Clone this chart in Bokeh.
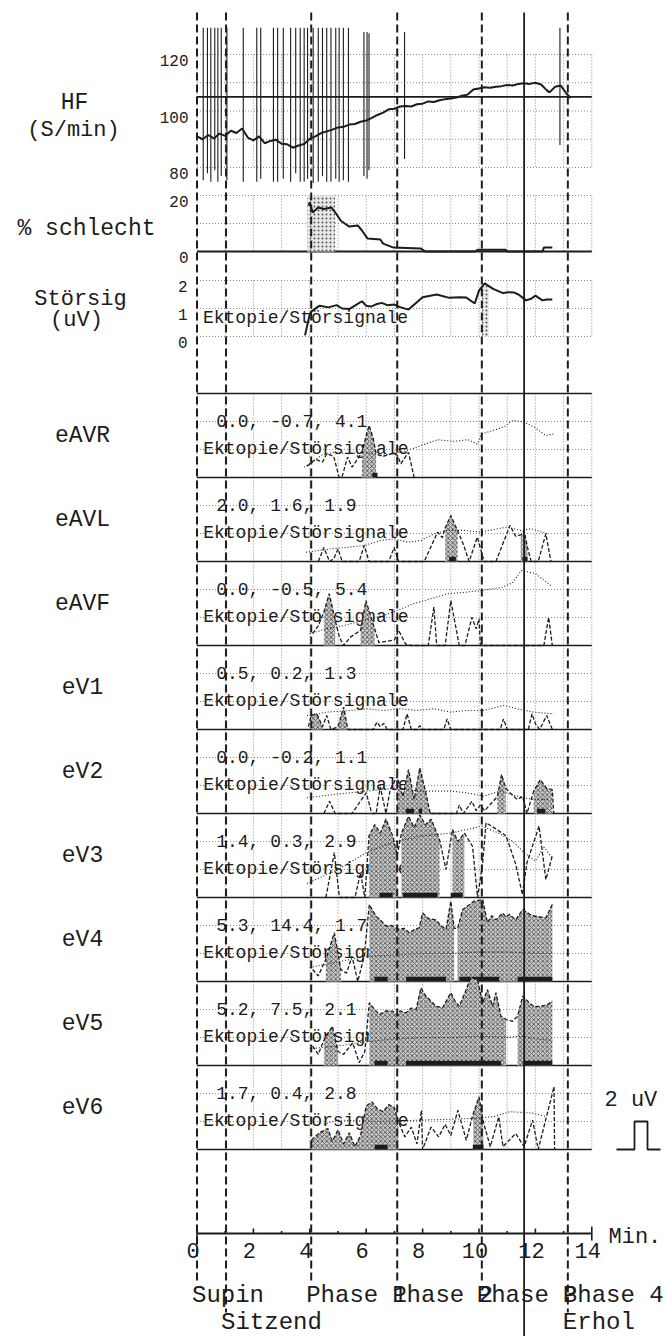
from bokeh.plotting import figure
from bokeh.models import Range1d
from bokeh.core.properties import value
from bokeh.embed import file_html
from bokeh.resources import INLINE

W, H = 666, 1336

# ---------------- data ----------------
PHASE_MIN = [0.0, 1.03, 4.05, 7.1, 10.1, 13.15]
PHASE_TOP_ROW = ["Supin", "", "Phase 1", "Phase 2", "Phase 3", "Phase 4"]
PHASE_LOW_ROW = ["", "Sitzend", "", "", "", "Erhol"]
MARKER_MIN = 11.6
X_TICKS = list(range(0, 15))
X_LABEL_TICKS = [0, 2, 4, 6, 8, 10, 12, 14]

HF_TICKS = [80, 100, 120]
HF_GRID = [80, 90, 100, 110, 120]
HF_REF = 105
HF_MIN = [0.0, 0.2, 0.4, 0.6, 0.8, 1.0, 1.2, 1.4, 1.6, 1.8, 2.0, 2.2, 2.4, 2.6, 2.8,
          3.0, 3.2, 3.4, 3.6, 3.8, 4.0, 4.2, 4.4, 4.6, 4.8, 5.0, 5.2, 5.4, 5.6, 5.8,
          6.0, 6.2, 6.4, 6.6, 6.8, 7.0, 7.2, 7.4, 7.6, 7.8, 8.0, 8.2, 8.4, 8.6, 8.8,
          9.0, 9.2, 9.4, 9.6, 9.8, 10.0, 10.2, 10.4, 10.6, 10.8, 11.0, 11.2, 11.4,
          11.6, 11.8, 12.0, 12.2, 12.4, 12.5, 12.7, 12.9, 13.1, 13.25]
HF_BPM = [91.0, 90.0, 91.5, 90.3, 92.0, 91.2, 93.0, 92.2, 93.8, 90.6, 89.6, 91.0, 88.6, 89.4, 89.8,
          88.4, 88.2, 87.0, 87.8, 88.3, 90.2, 91.0, 92.2, 92.8, 93.4, 94.2, 94.4, 95.2, 95.4, 96.2,
          96.6, 97.6, 98.6, 99.4, 100.6, 100.8, 101.6, 101.8, 101.6, 102.4, 102.6, 103.4, 103.2, 103.8, 104.2,
          104.4, 104.8, 105.4, 105.8, 107.6, 108.0, 108.4, 108.2, 108.6, 108.8, 109.2, 109.0, 109.6,
          109.8, 109.6, 110.0, 109.4, 107.4, 106.6, 108.6, 109.0, 106.2, 104.6]
SPIKE_MIN = [0.22, 0.37, 0.49, 0.63, 0.74, 0.86, 1.06, 1.64, 2.12, 2.26, 2.71, 2.86, 3.06, 3.32,
             3.5, 3.66, 3.8, 3.92, 4.12, 4.3, 4.45, 4.6, 4.75, 4.92, 5.04, 5.19, 5.37, 5.92,
             6.03, 6.1, 7.36, 12.87]
SPIKE_LO = [75.5, 78, 75, 79, 75, 77, 75.5, 75, 75, 76, 75, 75, 76, 75,
            78, 75, 75, 76, 74.5, 75, 77, 75, 75, 76, 75, 75.5, 75, 77,
            76, 79, 83, 88]
SPIKE_HI = [129.5, 129.5, 129.5, 129.5, 129.5, 129.5, 129.5, 129.5, 129.5, 129.5, 129.5, 129.5, 129.5, 129.5,
            129.5, 129.5, 129.5, 129.5, 129.5, 129.5, 129.5, 129.5, 129.5, 129.5, 129.5, 129.5, 129.5, 128,
            128, 127.5, 128, 129.5]

PCT_TICKS = [0, 20]
PCT_GRID = [10, 20]
PCT_MIN = [3.95, 4.0, 4.1, 4.3, 4.5, 4.77, 4.9, 5.1, 5.4, 5.7, 5.85, 6.05, 6.5, 6.6, 6.97,
           7.93, 8.1, 9.87, 9.95, 10.95, 11.0, 12.25, 12.3, 12.6]
PCT_VAL = [16.4, 17.5, 13.9, 15.7, 15.2, 15.7, 14.0, 11.0, 8.9, 9.3, 7.5, 4.6, 4.3, 2.8, 1.4,
           1.1, 0.0, 0.0, 0.6, 0.6, 0.0, 0.0, 1.4, 1.4]
PCT_STIPPLE = (3.9, 4.9, 20)

STOR_TICKS = [0, 1, 2]
STOR_MIN = [3.83, 4.0, 4.06, 4.35, 4.66, 4.95, 5.15, 5.4, 5.6, 5.85, 6.0, 6.17, 6.35, 6.55, 6.75,
            7.0, 7.2, 7.5, 8.0, 8.5, 8.95, 9.3, 9.55, 9.85, 10.0, 10.2, 10.5, 10.85, 11.05,
            11.25, 11.4, 11.67, 11.85, 12.0, 12.25, 12.4, 12.6]
STOR_VAL = [0.04, 0.8, 0.9, 1.1, 1.04, 1.12, 1.0, 0.98, 1.1, 1.26, 1.1, 1.07, 1.15, 1.2, 1.12,
            1.14, 1.05, 0.96, 1.4, 1.5, 1.38, 1.4, 1.39, 1.18, 1.64, 1.9, 1.7, 1.55, 1.58,
            1.57, 1.5, 1.29, 1.35, 1.46, 1.29, 1.32, 1.32]
STOR_STIPPLE = (10.1, 10.35, 1.8)

LEADS = ["eAVR", "eAVL", "eAVF", "eV1", "eV2", "eV3", "eV4", "eV5", "eV6"]
LEAD_STATS = ["0.0, -0.7, 4.1", "2.0, 1.6, 1.9", "0.0, -0.5, 5.4", "0.5, 0.2, 1.3",
              "0.0, -0.2, 1.1", "1.4, 0.3, 2.9", "5.3, 14.4, 1.7", "5.2, 7.5, 2.1",
              "1.7, 0.4, 2.8"]
ECTOPY_TEXT = "Ektopie/Störsignale"

# lead traces: (minute, divisions above panel baseline)
AVR_TREND = [(3.8, 0.37), (4.15, 0.6), (4.4, 0.79), (4.86, 0.9), (5.34, 0.85), (5.93, 0.9), (6.5, 0.79),
             (7.0, 0.85), (7.45, 0.96), (7.94, 1.14), (8.53, 1.35), (9.12, 1.29), (9.6, 1.35), (9.94, 1.2),
             (10.1, 1.56), (10.5, 1.68), (10.9, 1.82), (11.2, 2.04), (11.6, 1.98), (11.96, 1.8),
             (12.37, 1.5), (12.67, 1.56)]
AVR_ECTO = [(3.9, 0.4), (4.2, 0.65), (4.45, 0.55), (4.6, 0.85), (4.85, 0.75), (5.04, 0.0), (5.15, 0.05),
            (5.34, 0.73), (5.5, 0.37), (5.7, 0.67), (5.85, 0.9), (6.0, 1.5), (6.1, 1.86), (6.25, 1.4),
            (6.35, 0.85), (6.6, 0.75), (6.9, 0.85), (7.1, 0.8), (7.23, 0.49), (7.5, 0.9), (7.7, 0.0)]
AVR_HATCH = [(5.85, 6.35)]
AVR_BARS = [(6.22, 6.4)]

AVL_TREND = [(3.86, 0.33), (4.75, 0.45), (5.34, 0.51), (5.93, 0.57), (6.52, 0.75), (6.99, 0.81),
             (7.46, 0.69), (7.94, 0.75), (8.41, 0.99), (8.88, 1.11), (9.47, 1.11), (10.06, 1.05),
             (10.66, 1.17), (11.0, 1.23), (11.48, 1.11), (11.84, 1.17), (12.43, 0.99)]
AVL_ECTO = [(4.3, 0.0), (4.5, 0.5), (4.7, 0.0), (4.85, 0.1), (5.0, 0.45), (5.15, 0.0), (5.75, 0.0),
            (5.93, 0.57), (6.1, 0.0), (6.8, 0.0), (6.99, 0.5), (7.15, 0.0), (8.06, 0.0), (8.53, 1.05),
            (8.7, 0.85), (8.8, 1.2), (9.0, 1.64), (9.24, 1.1), (9.45, 0.6), (9.65, 0.0), (9.94, 0.87),
            (10.18, 0.0), (10.6, 0.0), (11.1, 1.29), (11.3, 0.9), (11.48, 0.95), (11.6, 1.1),
            (11.72, 0.5), (11.85, 0.0), (12.1, 0.0), (12.37, 0.99), (12.55, 0.0)]
AVL_HATCH = [(8.8, 9.24), (11.48, 11.72)]
AVL_BARS = [(8.94, 9.18), (11.54, 11.72)]

AVF_TREND = [(4.0, 0.42), (4.6, 0.6), (5.2, 0.71), (5.9, 0.9), (6.6, 1.07), (7.1, 1.25), (7.7, 1.5),
             (8.4, 1.7), (8.9, 1.85), (9.5, 1.9), (10.06, 1.96), (10.8, 2.07), (11.2, 2.25), (11.5, 2.68),
             (12.0, 2.57), (12.55, 2.14)]
AVF_ECTO = [(4.1, 0.42), (4.3, 0.7), (4.5, 1.2), (4.69, 1.85), (4.9, 0.9), (5.05, 0.3), (5.2, 0.0),
            (5.44, 0.3), (5.8, 0.54), (5.99, 1.6), (6.3, 0.6), (6.45, 0.1), (7.0, 0.2), (7.15, 0.54),
            (7.4, 0.05), (7.6, 0.0), (8.2, 0.0), (8.4, 1.37), (8.5, 0.0), (8.8, 0.0), (9.0, 1.6),
            (9.3, 0.0), (9.5, 0.0), (9.75, 1.0), (9.9, 0.6), (10.0, 0.95), (10.05, 0.0), (12.3, 0.0),
            (12.47, 1.0), (12.6, 0.0)]
AVF_HATCH = [(4.5, 4.9), (5.8, 6.3)]
AVF_BARS = []

V1_TREND = [(3.9, 0.5), (4.6, 0.62), (5.44, 0.68), (6.03, 0.74), (6.62, 0.68), (7.2, 0.74), (7.8, 0.68),
            (8.4, 0.74), (9.0, 0.62), (9.57, 0.68), (10.16, 0.68), (10.87, 0.86), (11.35, 0.74),
            (11.94, 0.62), (12.65, 0.56)]
V1_ECTO = [(3.95, 0.1), (4.05, 0.5), (4.25, 0.56), (4.45, 0.1), (4.6, 0.5), (4.75, 0.0), (5.0, 0.1),
           (5.2, 0.8), (5.35, 0.0), (6.25, 0.0), (6.38, 0.26), (6.5, 0.1), (6.62, 0.22), (6.75, 0.0),
           (7.3, 0.0), (7.45, 0.56), (7.6, 0.0), (7.8, 0.0), (7.9, 0.14), (8.0, 0.0), (8.75, 0.0),
           (8.87, 0.38), (9.0, 0.0), (10.75, 0.0), (10.87, 0.38), (11.0, 0.0), (11.75, 0.0),
           (11.88, 0.56), (12.0, 0.2), (12.15, 0.0), (12.4, 0.5), (12.6, 0.0)]
V1_HATCH = [(4.05, 4.45), (5.0, 5.35)]
V1_BARS = []

V2_TREND = [(3.9, 0.56), (4.85, 0.68), (6.03, 0.8), (7.2, 0.92), (7.8, 0.8), (9.0, 0.8), (9.57, 0.74),
            (10.16, 0.62), (10.75, 0.8), (11.35, 0.62), (11.94, 0.5), (12.5, 0.5)]
V2_ECTO = [(4.5, 0.0), (4.7, 0.44), (4.9, 0.0), (5.5, 0.0), (6.0, 0.74), (6.2, 0.0), (6.35, 0.0),
           (6.5, 0.95), (6.7, 0.0), (6.85, 0.85), (7.1, 1.33), (7.3, 0.6), (7.5, 1.57), (7.7, 0.5),
           (7.9, 1.63), (8.1, 0.8), (8.27, 0.0), (9.2, 0.0), (9.3, 0.3), (9.45, 0.0), (9.75, 0.44),
           (9.9, 0.1), (10.05, 0.3), (10.2, 0.1), (10.65, 0.6), (10.8, 1.39), (10.95, 0.9), (11.1, 0.74),
           (11.35, 0.5), (11.55, 0.6), (11.7, 0.0), (11.94, 0.8), (12.17, 1.21), (12.4, 0.9),
           (12.6, 0.85), (12.65, 0.0)]
V2_HATCH = [(7.1, 8.27), (10.65, 10.95), (11.94, 12.6)]
V2_BARS = [(7.4, 7.7), (7.86, 7.98), (12.06, 12.35)]

V3_TREND = [(3.9, 0.5), (5.0, 1.0), (6.0, 1.6), (7.0, 2.0), (8.0, 2.2), (9.0, 2.3), (10.1, 2.55),
            (10.7, 2.3), (11.2, 2.0), (11.6, 1.6), (12.0, 1.3), (12.3, 1.8), (12.6, 1.4)]
V3_ECTO = [(4.57, 0.0), (4.87, 1.6), (5.05, 0.0), (5.6, 0.0), (5.8, 0.88), (5.95, 0.0), (6.1, 2.2),
           (6.3, 2.6), (6.5, 2.3), (6.7, 2.8), (6.94, 2.2), (7.1, 1.5), (7.25, 2.3), (7.5, 2.9),
           (7.7, 2.5), (7.9, 2.95), (8.1, 2.6), (8.3, 2.8), (8.6, 2.07), (8.83, 1.0), (9.06, 2.43),
           (9.25, 2.0), (9.48, 2.3), (9.77, 1.83), (9.95, 0.0), (10.13, 1.24), (10.25, 2.67),
           (10.6, 2.45), (10.96, 2.2), (11.3, 1.2), (11.54, 0.1), (11.7, 1.24), (12.13, 2.55),
           (12.37, 0.64), (12.6, 1.48)]
V3_HATCH = [(6.1, 7.1), (7.25, 8.6), (9.06, 9.48)]
V3_BARS = [(6.47, 6.94), (7.3, 8.53), (9.0, 9.42)]

V4_TREND = [(4.0, 0.5), (5.0, 0.7), (6.0, 0.9), (7.0, 0.95), (8.0, 1.0), (9.0, 1.0), (10.0, 1.05),
            (11.0, 1.05), (12.0, 1.0), (12.6, 1.0)]
V4_ECTO = [(4.1, 0.43), (4.3, 0.2), (4.57, 0.79), (4.87, 1.74), (5.1, 0.43), (5.3, 0.3), (5.5, 0.9),
           (5.7, 0.0), (5.93, 0.9), (6.11, 2.75), (6.35, 2.33), (6.5, 2.2), (6.7, 1.98), (6.9, 2.0),
           (7.17, 1.86), (7.35, 1.9), (7.53, 1.74), (7.7, 1.85), (7.88, 1.92), (8.0, 2.45), (8.2, 2.25),
           (8.47, 2.2), (8.65, 2.0), (8.83, 1.86), (9.0, 2.87), (9.12, 1.9), (9.24, 1.9), (9.42, 2.57),
           (9.6, 2.7), (9.83, 2.87), (10.13, 2.93), (10.3, 2.1), (10.45, 2.35), (10.6, 2.2),
           (10.84, 2.45), (10.95, 2.3), (11.08, 2.4), (11.3, 2.2), (11.55, 2.57), (11.8, 2.4),
           (12.0, 2.33), (12.2, 2.3), (12.37, 2.27), (12.6, 2.75)]
V4_HATCH = [(4.57, 5.1), (6.11, 9.12), (9.24, 12.6)]
V4_BARS = [(6.29, 6.76), (7.41, 8.83), (9.3, 10.72), (11.37, 12.6)]

V5_TREND = [(4.0, 0.6), (5.0, 0.7), (6.0, 0.85), (7.0, 0.95), (8.0, 1.0), (9.0, 1.0), (10.0, 1.05),
            (11.0, 1.0), (11.5, 1.05), (12.0, 0.95), (12.6, 0.9)]
V5_ECTO = [(4.1, 0.69), (4.3, 0.4), (4.5, 0.9), (4.8, 1.4), (5.0, 0.5), (5.2, 0.4), (5.52, 0.81),
           (5.75, 0.1), (5.95, 0.5), (6.11, 2.24), (6.3, 2.0), (6.47, 1.82), (6.7, 1.95), (6.94, 1.94),
           (7.1, 1.8), (7.2, 1.95), (7.41, 1.88), (7.6, 2.05), (7.77, 2.0), (7.94, 2.77), (8.1, 2.5),
           (8.24, 2.36), (8.47, 2.12), (8.71, 2.06), (9.0, 2.6), (9.15, 2.3), (9.3, 2.12), (9.5, 2.6),
           (9.72, 3.15), (9.95, 3.05), (10.13, 2.24), (10.3, 2.71), (10.48, 2.12), (10.6, 2.6),
           (10.78, 1.76), (10.96, 1.64), (11.19, 1.58), (11.37, 1.76), (11.55, 2.48), (11.78, 2.24),
           (11.95, 2.1), (12.14, 2.12), (12.4, 2.15), (12.6, 2.3)]
V5_HATCH = [(4.5, 5.0), (6.11, 10.96), (11.37, 12.6)]
V5_BARS = [(6.29, 6.76), (7.41, 10.78), (11.55, 12.6)]

V6_TREND = [(4.5, 0.9), (5.0, 1.05), (6.5, 1.0), (8.0, 1.05), (9.55, 1.1), (10.5, 1.17), (11.1, 1.35),
            (11.9, 1.3), (12.4, 1.17)]
V6_ECTO = [(4.05, 0.33), (4.35, 0.6), (4.64, 0.75), (4.8, 0.3), (5.0, 0.7), (5.2, 0.2), (5.4, 0.6),
           (5.6, 0.1), (5.8, 0.5), (6.0, 1.55), (6.2, 1.7), (6.4, 1.45), (6.6, 1.35), (6.8, 1.6),
           (7.0, 1.5), (7.14, 1.0), (7.37, 0.45), (7.6, 0.8), (7.8, 0.2), (7.96, 1.4), (8.0, 0.0),
           (8.3, 0.8), (8.57, 0.45), (8.8, 0.9), (9.0, 0.5), (9.25, 1.4), (9.55, 0.33), (9.8, 1.3),
           (10.0, 1.88), (10.15, 1.0), (10.4, 0.1), (10.7, 1.17), (10.85, 0.1), (11.3, 0.57),
           (11.6, 0.1), (11.9, 1.05), (12.1, 0.0), (12.4, 1.2), (12.66, 2.24), (12.68, 0.0)]
V6_HATCH = [(4.05, 7.14), (9.8, 10.15)]
V6_BARS = [(6.3, 6.76), (9.78, 10.16)]

SCALE_UV = 2
UV_PER_DIV = 2

LEAD_TABLE = [
    (AVR_TREND, AVR_ECTO, AVR_HATCH, AVR_BARS),
    (AVL_TREND, AVL_ECTO, AVL_HATCH, AVL_BARS),
    (AVF_TREND, AVF_ECTO, AVF_HATCH, AVF_BARS),
    (V1_TREND, V1_ECTO, V1_HATCH, V1_BARS),
    (V2_TREND, V2_ECTO, V2_HATCH, V2_BARS),
    (V3_TREND, V3_ECTO, V3_HATCH, V3_BARS),
    (V4_TREND, V4_ECTO, V4_HATCH, V4_BARS),
    (V5_TREND, V5_ECTO, V5_HATCH, V5_BARS),
    (V6_TREND, V6_ECTO, V6_HATCH, V6_BARS),
]

# ---------------- layout (page pixels) ----------------
PX0, PPM = 196.5, 28.2
HF_MAP = (120, 54, 80, 167)
PCT_MAP = (20, 195, 0, 251)
STOR_MAP = (2, 280, 0, 336)
ECG_TOP, ECG_H = 393, 84
AXIS_Y = 1233
LINE_TOP = 12

INK = "#1c1c1c"
GRID = "#8a8a8a"
FONT = value("Liberation Mono")


def vrange(v1, y1, v2, y2):
    k = (y2 - y1) / (v2 - v1)
    return Range1d(start=v1 + (H - y1) / k, end=v1 + (0 - y1) / k)


p = figure(width=W, height=H, x_range=Range1d(-PX0 / PPM, (W - PX0) / PPM),
           y_range=Range1d(H, 0), toolbar_location=None, output_backend="svg",
           min_border=0, x_axis_location=None, y_axis_location=None, title=None)
p.outline_line_color = None
p.background_fill_color = "white"
p.border_fill_color = "white"
p.xgrid.visible = False
p.ygrid.visible = False
p.extra_x_ranges = {"px": Range1d(0, W)}
ranges = {"hf": vrange(*HF_MAP), "pct": vrange(*PCT_MAP), "stor": vrange(*STOR_MAP)}
for i in range(len(LEADS)):
    top = ECG_TOP + i * ECG_H
    ranges["L%d" % i] = vrange(3, top, 0, top + ECG_H)
p.extra_y_ranges = ranges

X_MAX = X_TICKS[-1]

# ---------- grid ----------
spans = [(HF_MAP[1], HF_MAP[3]), (PCT_MAP[1], PCT_MAP[3]), (STOR_MAP[1], STOR_MAP[3]),
         (ECG_TOP, ECG_TOP + len(LEADS) * ECG_H)]
gx, gy0, gy1 = [], [], []
for a, b in spans:
    for m in X_TICKS:
        gx.append(m); gy0.append(a); gy1.append(b)
p.segment(x0=gx, y0=gy0, x1=gx, y1=gy1, line_color=GRID, line_width=1, line_dash="1 2")


def hlines(vals, rname, **kw):
    n = len(vals)
    p.segment(x0=[0] * n, x1=[X_MAX] * n, y0=vals, y1=vals, y_range_name=rname, **kw)


dotted = dict(line_color=GRID, line_width=1, line_dash="1 2")
hlines(HF_GRID, "hf", **dotted)
hlines(PCT_GRID, "pct", **dotted)
hlines(STOR_TICKS, "stor", **dotted)
for i in range(len(LEADS)):
    hlines([1, 2], "L%d" % i, **dotted)

# solid frame lines
hlines([HF_REF], "hf", line_color=INK, line_width=1.6)
hlines([0], "pct", line_color=INK, line_width=2)
ecg_lines = [ECG_TOP + i * ECG_H for i in range(len(LEADS) + 1)]
p.segment(x0=[0] * len(ecg_lines), x1=[X_MAX] * len(ecg_lines), y0=ecg_lines, y1=ecg_lines,
          line_color=INK, line_width=1.6)

# ---------- left labels ----------
left_txt = ["HF", "(S/min)", "% schlecht", "Störsig", "(uV)"]
left_x = [74, 73, 86, 80, 76]
left_y = [102, 130, 228, 299, 320]
left_sz = ["23px", "22px", "23px", "22px", "22px"]
for t, x, y, s in zip(left_txt, left_x, left_y, left_sz):
    p.text(x=[x], y=[y], text=[t], x_range_name="px", text_font=FONT,
           text_font_size=s, text_align="center", text_baseline="middle", text_color=INK)
lead_y = [ECG_TOP + i * ECG_H + ECG_H / 2 for i in range(len(LEADS))]
p.text(x=[82] * len(LEADS), y=lead_y, text=LEADS, x_range_name="px", text_font=FONT,
       text_font_size="23px", text_align="center", text_baseline="middle", text_color=INK)

# tick labels of the small panels
tick_kw = dict(x_range_name="px", text_font=FONT, text_font_size="16px", text_align="right",
               text_baseline="middle", text_color=INK, y_offset=6)
p.text(x=[188] * len(HF_TICKS), y=HF_TICKS, text=[str(t) for t in HF_TICKS], y_range_name="hf", **tick_kw)
p.text(x=[188] * len(PCT_TICKS), y=PCT_TICKS, text=[str(t) for t in PCT_TICKS], y_range_name="pct", **tick_kw)
p.text(x=[187] * len(STOR_TICKS), y=STOR_TICKS, text=[str(t) for t in STOR_TICKS], y_range_name="stor", **tick_kw)

# in-panel texts
small_kw = dict(text_font=FONT, text_font_size="18px", text_align="left", text_baseline="middle",
                text_color=INK)
p.text(x=[0.21], y=[317], text=[ECTOPY_TEXT], **small_kw)
p.text(x=[0.68] * len(LEADS), y=[ECG_TOP + i * ECG_H + 28 for i in range(len(LEADS))],
       text=LEAD_STATS, **small_kw)
p.text(x=[0.22] * len(LEADS), y=[ECG_TOP + i * ECG_H + 55 for i in range(len(LEADS))],
       text=[ECTOPY_TEXT] * len(LEADS), **small_kw)

# ---------- HF panel ----------
p.segment(x0=SPIKE_MIN, x1=SPIKE_MIN, y0=SPIKE_LO, y1=SPIKE_HI, y_range_name="hf",
          line_color=INK, line_width=1.1)
p.line(HF_MIN, HF_BPM, y_range_name="hf", line_color=INK, line_width=2)

# ---------- % schlecht ----------
p.quad(left=[PCT_STIPPLE[0]], right=[PCT_STIPPLE[1]], bottom=[0], top=[PCT_STIPPLE[2]],
       y_range_name="pct", fill_color="#e8e8e8", line_color=None,
       hatch_pattern="dot", hatch_color="#555555", hatch_scale=4, hatch_weight=1)
p.line(PCT_MIN, PCT_VAL, y_range_name="pct", line_color=INK, line_width=2)

# ---------- Störsig ----------
p.quad(left=[STOR_STIPPLE[0]], right=[STOR_STIPPLE[1]], bottom=[0], top=[STOR_STIPPLE[2]],
       y_range_name="stor", fill_color="#e8e8e8", line_color=None,
       hatch_pattern="dot", hatch_color="#555555", hatch_scale=4, hatch_weight=1)
p.line(STOR_MIN, STOR_VAL, y_range_name="stor", line_color=INK, line_width=2)

# ---------- ECG leads ----------
BAR_H = 0.17
for i, (trend, ecto, hatch, bars) in enumerate(LEAD_TABLE):
    rn = "L%d" % i
    for a, b in hatch:
        pts = [(x, y) for x, y in ecto if a - 1e-9 <= x <= b + 1e-9]
        p.varea(x=[q[0] for q in pts], y1=[0] * len(pts), y2=[q[1] for q in pts], y_range_name=rn,
                fill_color="#cccccc", fill_alpha=1.0, hatch_pattern="diagonal_cross",
                hatch_color="#404040", hatch_scale=4.5, hatch_weight=0.8)
    p.line([q[0] for q in trend], [q[1] for q in trend], y_range_name=rn,
           line_color=INK, line_width=1.1, line_dash="1 2")
    p.line([q[0] for q in ecto], [q[1] for q in ecto], y_range_name=rn,
           line_color=INK, line_width=1.3, line_dash="4 2")
    if bars:
        p.quad(left=[b[0] for b in bars], right=[b[1] for b in bars], bottom=[0] * len(bars),
               top=[BAR_H] * len(bars), y_range_name=rn, fill_color=INK, line_color=None)

# ---------- phase lines ----------
ends = [1312 if lab else 1282 for lab in PHASE_LOW_ROW]
p.segment(x0=PHASE_MIN, x1=PHASE_MIN, y0=[LINE_TOP] * len(PHASE_MIN), y1=ends,
          line_color=INK, line_width=2, line_dash="8 4")
p.segment(x0=[MARKER_MIN], x1=[MARKER_MIN], y0=[LINE_TOP], y1=[H], line_color=INK, line_width=1.8)

# ---------- time axis ----------
p.segment(x0=[0], x1=[X_MAX], y0=[AXIS_Y], y1=[AXIS_Y], line_color=INK, line_width=2)
tk_up = [AXIS_Y - (7 if t in (0, X_MAX) else (5 if t % 2 == 0 else 2.5)) for t in X_TICKS]
tk_dn = [AXIS_Y + (7 if t in (0, X_MAX) else 0) for t in X_TICKS]
p.segment(x0=X_TICKS, x1=X_TICKS, y0=tk_up, y1=tk_dn, line_color=INK, line_width=1.6)
p.text(x=X_LABEL_TICKS, y=[1250] * len(X_LABEL_TICKS), text=[str(t) for t in X_LABEL_TICKS],
       text_font=FONT, text_font_size="22px", text_align="center", text_baseline="middle",
       text_color=INK, x_offset=-4)
p.text(x=[608], y=[1237], text=["Min."], x_range_name="px", text_font=FONT,
       text_font_size="22px", text_align="left", text_baseline="middle", text_color=INK)

# phase labels
r1 = [(m, t) for m, t in zip(PHASE_MIN, PHASE_TOP_ROW) if t]
r2 = [(m, t) for m, t in zip(PHASE_MIN, PHASE_LOW_ROW) if t]
p.text(x=[m for m, _ in r1], y=[1295] * len(r1), text=[t for _, t in r1], text_font=FONT,
       text_font_size="24px", text_align="left", text_baseline="middle", text_color=INK, x_offset=-5)
p.text(x=[m for m, _ in r2], y=[1322] * len(r2), text=[t for _, t in r2], text_font=FONT,
       text_font_size="24px", text_align="left", text_baseline="middle", text_color=INK, x_offset=-5)

# ---------- calibration pulse ----------
p.text(x=[604], y=[1100], text=["%d uV" % SCALE_UV], x_range_name="px", text_font=FONT,
       text_font_size="22px", text_align="left", text_baseline="middle", text_color=INK)
ph = SCALE_UV / UV_PER_DIV
p.line(x=[616, 634, 634, 647, 647, 660], y=[0, 0, ph, ph, 0, 0], x_range_name="px",
       y_range_name="L%d" % (len(LEADS) - 1), line_color=INK, line_width=1.8)

open("out.html", "w").write(file_html(p, INLINE))
